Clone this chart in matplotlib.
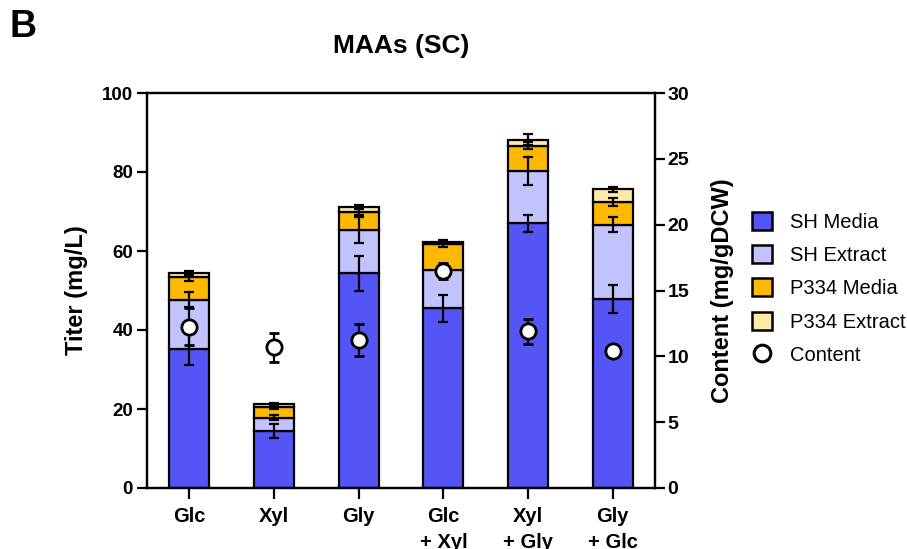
import matplotlib
matplotlib.use("Agg")
import matplotlib.pyplot as plt
from matplotlib.patches import Patch
from matplotlib.lines import Line2D
import numpy as np

categories = ["Glc", "Xyl", "Gly", "Glc\n+ Xyl", "Xyl\n+ Gly", "Gly\n+ Glc"]
sh_media = [35.2, 14.4, 54.4, 45.5, 67.0, 47.8]
sh_media_err = [4.0, 1.7, 4.4, 3.4, 2.2, 3.6]
sh_extract = [12.5, 3.4, 10.9, 9.7, 13.2, 18.9]
sh_extract_err = [2.0, 0.6, 3.4, 1.0, 3.5, 1.9]
p334_media = [5.7, 2.8, 4.5, 6.5, 6.5, 5.7]
p334_media_err = [1.0, 0.5, 0.8, 0.6, 0.8, 1.1]
p334_extract = [1.0, 0.7, 1.4, 0.7, 1.5, 3.2]
p334_extract_err = [0.6, 0.3, 0.5, 0.4, 1.3, 0.6]
content = [12.25, 10.7, 11.25, 16.5, 11.9, 10.4]
content_err = [1.4, 1.1, 1.2, 0.6, 0.95, 0.3]

series_names = ["SH Media", "SH Extract", "P334 Media", "P334 Extract"]
colors = ["#5555F5", "#C2C2FF", "#FFB800", "#FFE9A6"]

plt.rcParams['font.family'] = ['Liberation Sans', 'DejaVu Sans']
plt.rcParams['font.weight'] = 'bold'
plt.rcParams['axes.labelweight'] = 'bold'

fig = plt.figure(figsize=(9.07, 5.49), dpi=100)
ax = fig.add_axes([147/907, 1-488/549, (655-147)/907, (488-93)/549])
ax2 = ax.twinx()

x = np.arange(len(categories))
w = 0.47
bottom = np.zeros(len(categories))
vals = [sh_media, sh_extract, p334_media, p334_extract]
errs = [sh_media_err, sh_extract_err, p334_media_err, p334_extract_err]
for v, e, c, n in zip(vals, errs, colors, series_names):
    v = np.array(v)
    ax.bar(x, v, w, bottom=bottom, color=c, edgecolor='black', linewidth=1.6, zorder=2, label=n)
    bottom = bottom + v
    ax.errorbar(x, bottom, yerr=e, fmt='none', ecolor='black', elinewidth=1.6,
                capsize=3.5, capthick=1.6, zorder=3)

ax2.errorbar(x, content, yerr=content_err, fmt='o', color='black', mfc='white', mec='black',
             mew=2.0, ms=11, elinewidth=1.6, capsize=3.5, capthick=1.6, zorder=5)

ax.set_xlim(-0.5, 5.5)
ax.set_ylim(0, 100)
ax2.set_ylim(0, 30)
ax.set_yticks([0, 20, 40, 60, 80, 100])
ax2.set_yticks([0, 5, 10, 15, 20, 25, 30])
ax.set_xticks(x)
ax.set_xticklabels(categories, fontsize=14.5, fontweight='bold', linespacing=1.45)
for t in ax.get_yticklabels():
    t.set_fontsize(13.5); t.set_fontweight('bold')
for t in ax2.get_yticklabels():
    t.set_fontsize(14); t.set_fontweight('bold')

for a in (ax, ax2):
    for s in a.spines.values():
        s.set_linewidth(1.6)
ax.tick_params(axis='y', length=7, width=1.6, pad=3)
ax.tick_params(axis='x', length=8, width=1.6, pad=6)
ax2.tick_params(axis='y', length=7, width=1.6, pad=2)

ax.set_ylabel("Titer (mg/L)", fontsize=17, fontweight='bold', labelpad=10)
ax2.set_ylabel("Content (mg/gDCW)", fontsize=17, fontweight='bold', labelpad=16)

fig.text(401/907, 1-46/549, "MAAs (SC)", ha='center', va='center', fontsize=19, fontweight='bold')
fig.text(10/907, 1-27/549, "B", ha='left', va='center', fontsize=27, fontweight='bold')

handles = [Patch(facecolor=c, edgecolor='black', linewidth=1.8) for c in colors]
handles.append(Line2D([], [], marker='o', ls='none', mfc='white', mec='black', mew=2.2, ms=12))
labels = series_names + ["Content"]
leg = fig.legend(handles, labels, loc='upper left', bbox_to_anchor=(752/907, 1-212/549),
                 frameon=False, prop={'size': 14.5, 'weight': 'normal'},
                 handlelength=1.0, handleheight=1.0, handletextpad=0.9,
                 labelspacing=0.66, borderpad=0, borderaxespad=0)

fig.savefig("out.png", dpi=100)
